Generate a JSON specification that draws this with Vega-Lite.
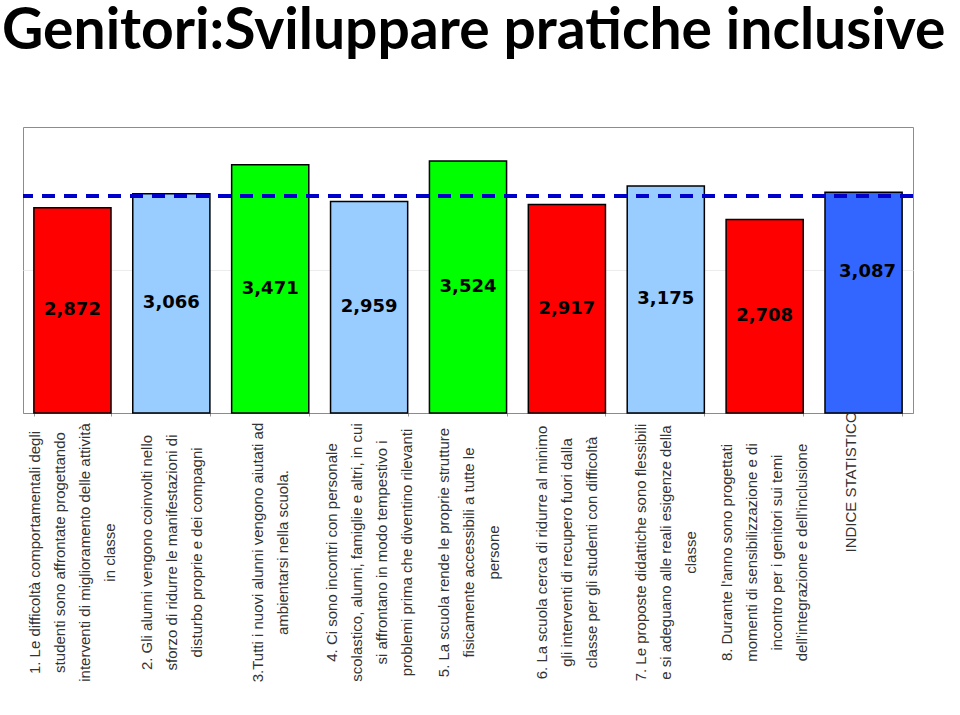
{
  "$schema": "https://vega.github.io/schema/vega-lite/v6.json",
  "width": 890,
  "height": 286,
  "autosize": {"type": "none"},
  "padding": {"left": 23, "top": 127, "right": 47, "bottom": 302},
  "background": "white",
  "config": {
    "view": {"stroke": "#8c8c8c", "strokeWidth": 1},
    "locale": {"number": {"decimal": ",", "thousands": ".", "grouping": [3], "currency": ["", " €"]}}
  },
  "title": {
    "text": "Genitori:Sviluppare pratiche inclusive",
    "anchor": "start",
    "frame": "group",
    "dx": -21,
    "offset": 21,
    "baseline": "alphabetic",
    "font": "Lato",
    "fontWeight": "bold",
    "fontSize": 57,
    "color": "black"
  },
  "data": {
    "values": [
      {"voce": "1. Le difficoltà comportamentali degli|studenti sono affrontate progettando|interventi di miglioramento delle attività|in classe", "valore": 2.872, "fascia": "bassa"},
      {"voce": "2. Gli alunni vengono coinvolti nello|sforzo di ridurre le manifestazioni di|disturbo proprie e dei compagni", "valore": 3.066, "fascia": "media"},
      {"voce": "3.Tutti i nuovi alunni vengono aiutati ad|ambientarsi nella scuola.", "valore": 3.471, "fascia": "alta"},
      {"voce": "4. Ci sono incontri con personale|scolastico, alunni, famiglie e altri, in cui|si affrontano in modo tempestivo i|problemi prima che diventino rilevanti", "valore": 2.959, "fascia": "media"},
      {"voce": "5. La scuola rende le proprie strutture|fisicamente accessibili a tutte le|persone", "valore": 3.524, "fascia": "alta"},
      {"voce": "6. La scuola cerca di ridurre al minimo|gli interventi di recupero fuori dalla|classe per gli studenti con difficoltà", "valore": 2.917, "fascia": "bassa"},
      {"voce": "7. Le proposte didattiche sono flessibili|e si adeguano alle reali esigenze della|classe", "valore": 3.175, "fascia": "media"},
      {"voce": "8. Durante l'anno sono progettati|momenti di sensibilizzazione e di|incontro per i genitori sui temi|dell'integrazione e dell'inclusione", "valore": 2.708, "fascia": "bassa"},
      {"voce": "INDICE STATISTICO", "valore": 3.087, "fascia": "indice"}
    ]
  },
  "layer": [
    {
      "mark": {"type": "bar", "stroke": "black", "strokeWidth": 1.5},
      "encoding": {
        "x": {
          "field": "voce", "type": "nominal", "sort": null,
          "scale": {"paddingInner": 0.22, "paddingOuter": 0.11},
          "axis": {
            "title": null,
            "labelAngle": -90,
            "labelExpr": "split(datum.label, '|')",
            "labelLimit": 0,
            "labelOverlap": false,
            "labelFont": "Liberation Sans",
            "labelFontSize": 15,
            "labelColor": "#333333",
            "labelLineHeight": 25,
            "labelBaseline": {
              "condition": [
                {"test": "length(split(datum.value, '|')) == 4", "value": "line-bottom"},
                {"test": "length(split(datum.value, '|')) == 3", "value": "middle"}
              ],
              "value": "line-top"
            },
            "labelAlign": {"condition": {"test": "datum.value == 'INDICE STATISTICO'", "value": "left"}, "value": "center"},
            "labelPadding": 136,
            "labelOffset": -25,
            "tickBand": "extent",
            "tickSize": 3,
            "tickColor": "#999999",
            "domainColor": "#8c8c8c"
          }
        },
        "y": {
          "field": "valore", "type": "quantitative",
          "scale": {"domain": [0, 4]},
          "axis": {"title": null, "labels": false, "ticks": false, "domain": false, "grid": true, "values": [2], "gridColor": "#ececec"}
        },
        "color": {
          "field": "fascia", "type": "nominal",
          "scale": {"domain": ["bassa", "media", "alta", "indice"], "range": ["#ff0000", "#99ccff", "#00ff00", "#3366ff"]},
          "legend": null
        }
      }
    },
    {
      "transform": [{"filter": "datum.fascia != 'indice'"}, {"calculate": "datum.valore / 2", "as": "meta"}],
      "mark": {"type": "text", "font": "DejaVu Sans", "fontWeight": "bold", "fontSize": 18, "color": "black"},
      "encoding": {
        "x": {"field": "voce", "type": "nominal", "sort": null},
        "y": {"field": "meta", "type": "quantitative"},
        "text": {"field": "valore", "type": "quantitative", "format": ".3f"}
      }
    },
    {
      "transform": [{"filter": "datum.fascia == 'indice'"}, {"calculate": "datum.valore / 2", "as": "meta"}],
      "mark": {"type": "text", "font": "DejaVu Sans", "fontWeight": "bold", "fontSize": 18, "color": "black", "dy": -31, "dx": 4},
      "encoding": {
        "x": {"field": "voce", "type": "nominal", "sort": null},
        "y": {"field": "meta", "type": "quantitative"},
        "text": {"field": "valore", "type": "quantitative", "format": ".3f"}
      }
    },
    {
      "mark": {"type": "rule", "color": "#0000cc", "strokeWidth": 3, "strokeDash": [13, 9]},
      "encoding": {"y": {"datum": 3.035}}
    }
  ]
}
